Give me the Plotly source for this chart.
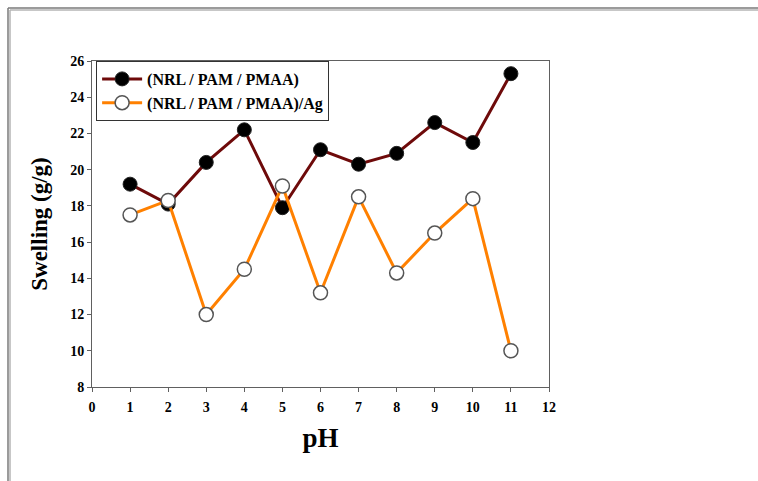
import plotly.graph_objects as go

# pH values and swelling ratios (g/g)
ph = [1, 2, 3, 4, 5, 6, 7, 8, 9, 10, 11]
swelling_base = [19.2, 18.1, 20.4, 22.2, 17.9, 21.1, 20.3, 20.9, 22.6, 21.5, 25.3]
swelling_ag = [17.5, 18.3, 12.0, 14.5, 19.1, 13.2, 18.5, 14.3, 16.5, 18.4, 10.0]

x_ticks = list(range(0, 13))
y_ticks = list(range(8, 27, 2))

serif = "Liberation Serif"

fig = go.Figure()
fig.add_trace(go.Scatter(
    x=ph, y=swelling_base, mode="lines+markers",
    name="(NRL / PAM / PMAA)",
    line=dict(color="#6e0a0a", width=3),
    marker=dict(symbol="circle", size=14, color="black",
                line=dict(color="#222222", width=1)),
))
fig.add_trace(go.Scatter(
    x=ph, y=swelling_ag, mode="lines+markers",
    name="(NRL / PAM / PMAA)/Ag",
    line=dict(color="#ff8000", width=3),
    marker=dict(symbol="circle", size=14, color="white",
                line=dict(color="#555555", width=1.5)),
))

axis_common = dict(
    showline=True, linecolor="#606060", linewidth=1, mirror=True,
    ticks="outside", ticklen=4, tickcolor="#606060",
    showgrid=False, zeroline=False,
    tickfont=dict(family=serif, size=14, color="black", weight="bold"),
)

fig.update_xaxes(
    range=[0, 12], tickvals=x_ticks, ticklabelstandoff=3,
    title=dict(text="pH", font=dict(family=serif, size=27, color="black", weight="bold"),
               standoff=14),
    **axis_common,
)
fig.update_yaxes(
    range=[8, 26], tickvals=y_ticks,
    title=dict(text="Swelling (g/g)", font=dict(family=serif, size=23, color="black", weight="bold"),
               standoff=16),
    **axis_common,
)

# outer page frame: double gray line along the top and left edges
frame = []
for off, col in [(0, "#7a7a7a"), (2, "#b5b5b5")]:
    py = 8 + off
    px = 8 + off
    yp = (387 - py) / 326
    xp = (px - 92) / 457
    frame.append(dict(type="line", xref="paper", yref="paper",
                      x0=xp, x1=(758 - 92) / 457, y0=yp, y1=yp,
                      line=dict(color=col, width=1.5)))
    frame.append(dict(type="line", xref="paper", yref="paper",
                      x0=xp, x1=xp, y0=yp, y1=(387 - 481) / 326,
                      line=dict(color=col, width=1.5)))

fig.update_layout(
    width=758, height=481,
    margin=dict(l=92, r=209, t=61, b=94),
    paper_bgcolor="white", plot_bgcolor="white",
    shapes=frame,
    showlegend=True,
    legend=dict(
        x=0.009, y=1, xanchor="left", yanchor="top",
        bgcolor="white", bordercolor="#333333", borderwidth=1,
        font=dict(family=serif, size=16, color="black", weight="bold"),
        itemwidth=40, tracegroupgap=0,
    ),
)

fig.write_html("out.html")
